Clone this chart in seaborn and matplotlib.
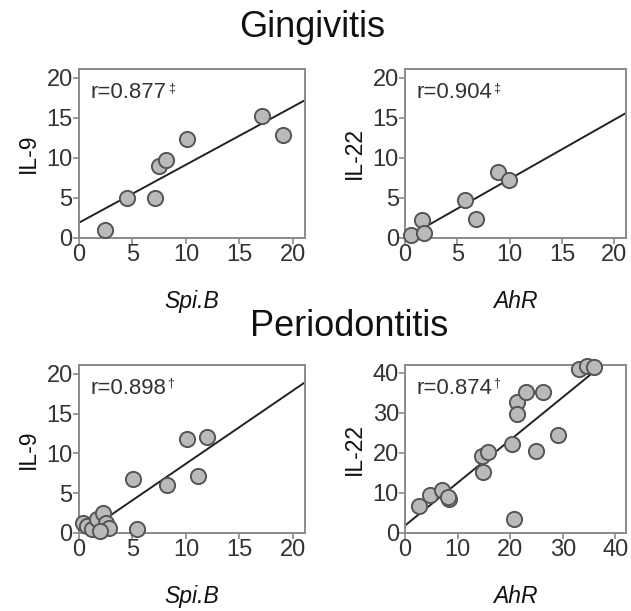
import numpy as np
import matplotlib
matplotlib.use('Agg')
import matplotlib.pyplot as plt
import seaborn as sns

# ==========================================
# Data
# ==========================================
ging_spib = [2.4, 4.5, 7.1, 7.5, 8.1, 10.1, 17.1, 19.1]
ging_il9 = [1.0, 5.0, 5.0, 9.0, 9.7, 12.4, 15.2, 12.9]

ging_ahr = [0.6, 1.6, 1.8, 5.7, 6.8, 8.9, 9.9]
ging_il22 = [0.4, 2.3, 0.6, 4.8, 2.4, 8.2, 7.2]

perio_spib = [0.4, 0.8, 1.2, 1.7, 2.3, 2.5, 2.8, 2.0, 5.1, 5.4, 8.2, 10.1, 12.0, 11.1]
perio_il9 = [1.2, 0.9, 0.5, 1.8, 2.5, 1.3, 0.6, 0.3, 6.8, 0.5, 6.0, 11.8, 12.0, 7.2]

perio_ahr = [2.6, 4.7, 7.1, 8.3, 8.1, 14.6, 15.7, 14.8, 20.4, 20.8, 21.2, 21.3,
             23.0, 26.2, 24.8, 29.1, 33.0, 34.5, 36.0]
perio_il22 = [6.7, 9.6, 10.8, 8.5, 9.0, 19.2, 20.3, 15.3, 22.3, 3.5, 32.7, 29.8,
              35.2, 35.2, 20.4, 24.4, 41.0, 41.7, 41.6]

r_labels = ['r=0.877', 'r=0.904', 'r=0.898', 'r=0.874']
r_marks = ['\u2021', '\u2021', '\u2020', '\u2020']
group_titles = ['Gingivitis', 'Periodontitis']

# ==========================================
# Style
# ==========================================
sns.set_theme(style='ticks')
plt.rcParams['font.family'] = ['Liberation Sans', 'DejaVu Sans']
SPINE = '#8a8a8a'
TXT = '#333333'

fig = plt.figure(figsize=(6.31, 6.11), dpi=100)

panels = [
    # (rect, x, y, xlabel, ylabel, lim, ticks)
    ([0.125, 0.6105, 0.358, 0.2766], ging_spib, ging_il9, 'Spi.B', 'IL-9', 21.1, [0, 5, 10, 15, 20]),
    ([0.642, 0.6105, 0.350, 0.2766], ging_ahr, ging_il22, 'AhR', 'IL-22', 21.1, [0, 5, 10, 15, 20]),
    ([0.125, 0.1277, 0.358, 0.2750], perio_spib, perio_il9, 'Spi.B', 'IL-9', 21.1, [0, 5, 10, 15, 20]),
    ([0.642, 0.1277, 0.350, 0.2750], perio_ahr, perio_il22, 'AhR', 'IL-22', 42.0, [0, 10, 20, 30, 40]),
]

for i, (rect, xv, yv, xl, yl, lim, ticks) in enumerate(panels):
    ax = fig.add_axes(rect)
    ax.set_xlim(0, lim)
    ax.set_ylim(0, lim)
    sns.regplot(x=np.array(xv), y=np.array(yv), ax=ax, ci=None, truncate=False,
                scatter_kws=dict(s=120, color='#bababa', edgecolor='#555555',
                                 linewidths=1.4, alpha=1, clip_on=False, zorder=3),
                line_kws=dict(color='#222222', lw=1.4, zorder=2))
    ax.set_xlim(0, lim)
    ax.set_ylim(0, lim)
    ax.set_xticks(ticks)
    ax.set_yticks(ticks)
    for s in ax.spines.values():
        s.set_visible(True)
        s.set_color(SPINE)
        s.set_linewidth(1.4)
    ax.tick_params(length=4, width=1.2, color=SPINE, labelsize=17,
                   labelcolor=TXT, pad=0.5)
    ax.set_xlabel(xl, fontsize=16.5, style='italic', color='#111111', labelpad=17)
    ax.set_ylabel(yl, fontsize=16.5, color='#111111', labelpad=5)
    t = ax.text(0.05, 0.86, r_labels[i], transform=ax.transAxes, fontsize=16,
                color=TXT, va='center', ha='left')
    ax.annotate(r_marks[i], xy=(1.02, 0.72), xycoords=t, fontsize=9, color=TXT,
                va='center', ha='left')

fig.text(0.495, 0.955, group_titles[0], fontsize=26, ha='center', va='center', color='#111111')
fig.text(0.553, 0.465, group_titles[1], fontsize=26, ha='center', va='center', color='#111111')

fig.savefig('out.png', dpi=100, facecolor='white')
